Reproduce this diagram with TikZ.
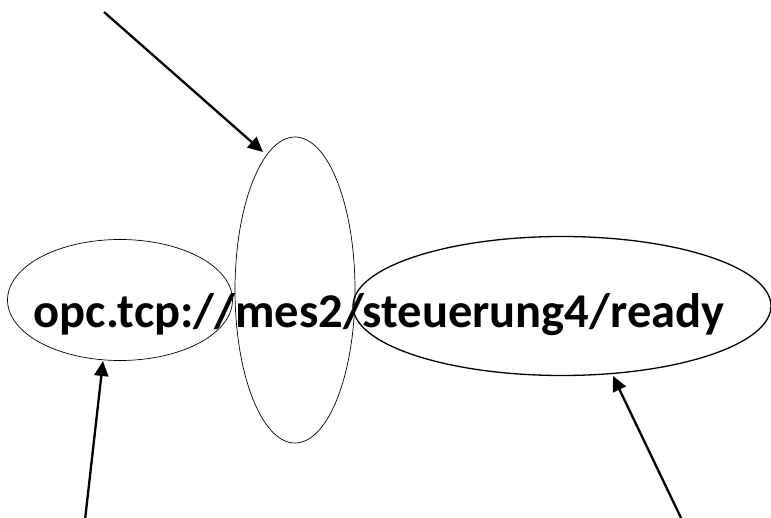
\documentclass[tikz,border=0pt]{standalone}
\usepackage{fontspec}
\setmainfont{Carlito}
\usetikzlibrary{arrows.meta,shapes.geometric}
\begin{document}
\begin{tikzpicture}[x=1pt,y=-1pt,
  ring/.style={draw=black, ellipse, inner sep=0pt, line width=0.7pt},
  pointer/.style={draw=black, line width=2.3pt, -{Triangle[length=15pt,width=14pt]}},
  url/.style={font=\fontsize{48.5}{58}\selectfont\bfseries, inner sep=0pt}]
  \useasboundingbox (0,0) rectangle (771,518);
  \fill[white] (0,0) rectangle (771,518);

  % three ellipses marking parts of the address
  \node[ring, minimum width=225pt, minimum height=121pt] (scheme) at (120,300) {};
  \node[ring, minimum width=120pt, minimum height=306pt] (host) at (295,290) {};
  \node[ring, line width=1.3pt, minimum width=418pt, minimum height=139pt] (path) at (562,306) {};

  % the address itself
  \node[url, anchor=base] (addr) at (379,328) {opc.tcp://mes2/steuerung4/ready};

  % arrow ends
  \coordinate (t1) at (104,12);
  \coordinate (h1) at (263,152);
  \coordinate (t2) at (85,520);
  \coordinate (h2) at (103,361);
  \coordinate (t3) at (682,520);
  \coordinate (h3) at (613,376);

  \draw[pointer] (t1) -- (h1);
  \draw[pointer] (t2) -- (h2);
  \draw[pointer] (t3) -- (h3);
\end{tikzpicture}
\end{document}
